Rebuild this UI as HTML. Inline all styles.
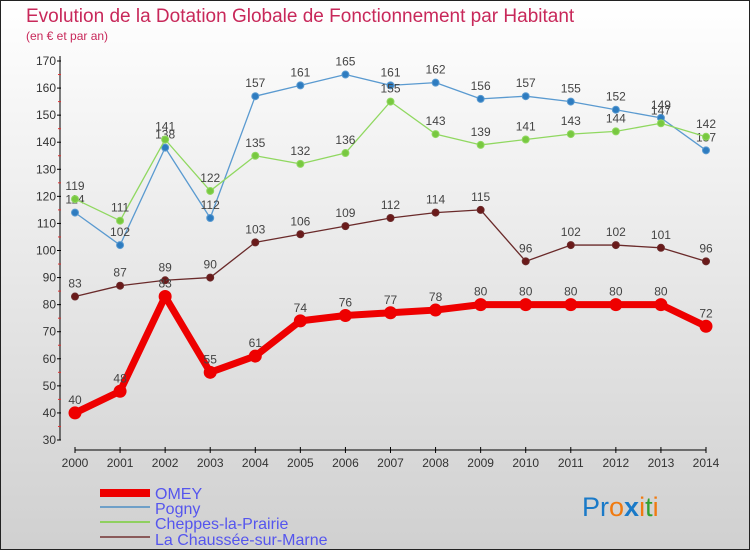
<!DOCTYPE html>
<html><head><meta charset="utf-8"><style>
body{margin:0;width:750px;height:550px;overflow:hidden;font-family:"Liberation Sans",sans-serif}
svg{display:block}
</style></head><body>
<svg width="750" height="550">
<defs><linearGradient id="bg" x1="0" y1="0" x2="0" y2="1"><stop offset="0" stop-color="#ffffff"/><stop offset="1" stop-color="#d0d0d0"/></linearGradient></defs>
<rect x="0.5" y="0.5" width="749" height="549" fill="url(#bg)" stroke="#222"/>
<text x="26" y="22" font-size="19" fill="#c8285a">Evolution de la Dotation Globale de Fonctionnement par Habitant</text>
<text x="26" y="40" font-size="12" fill="#c8285a">(en € et par an)</text>
<g id="axes"></g><g id="series"></g>
<g>
<rect x="100" y="489" width="50" height="8" fill="#e00"/>
<text x="155" y="499" font-size="16" fill="#5555ee">OMEY</text>
<rect x="100" y="506" width="50" height="2" fill="#6fa0c8"/>
<text x="155" y="514" font-size="16" fill="#5555ee">Pogny</text>
<rect x="100" y="521" width="50" height="2" fill="#8fd060"/>
<text x="155" y="529" font-size="16" fill="#5555ee">Cheppes-la-Prairie</text>
<rect x="100" y="536" width="50" height="2" fill="#8a5a5a"/>
<text x="155" y="545" font-size="16" fill="#5555ee">La Chaussée-sur-Marne</text>
</g>
<g font-size="27">
<text x="582" y="516"><tspan fill="#1a7ac8">Pr</tspan><tspan fill="#f07a10">o</tspan><tspan fill="#1a7ac8" font-weight="bold">x</tspan><tspan fill="#f07a10">i</tspan><tspan fill="#30a030">t</tspan><tspan fill="#f07a10">i</tspan></text>
</g>
</svg>
<script>
const years=[2000,2001,2002,2003,2004,2005,2006,2007,2008,2009,2010,2011,2012,2013,2014];
const yTicks=[30,40,50,60,70,80,90,100,110,120,130,140,150,160,170];
const omey=[40,48,83,55,61,74,76,77,78,80,80,80,80,80,72];
const pogny=[114,102,138,112,157,161,165,161,162,156,157,155,152,149,137];
const cheppes=[119,111,141,122,135,132,136,155,143,139,141,143,144,147,142];
const chaussee=[83,87,89,90,103,106,109,112,114,115,96,102,102,101,96];
const NS='http://www.w3.org/2000/svg';
const X=i=>75+i*(706-75)/(years.length-1);
const Y=v=>440-(v-30)*(440-61)/140;
function mk(t,a,p){const e=document.createElementNS(NS,t);for(const k in a)e.setAttribute(k,a[k]);p.appendChild(e);return e;}
const ax=document.getElementById('axes');
const yl=mk('line',{x1:60,y1:56,x2:60,y2:440,stroke:'#000'},ax);


yTicks.forEach(v=>{mk('line',{x1:57,x2:61,y1:Y(v),y2:Y(v),stroke:'#000'},ax);
if(v<170)mk('line',{x1:58,x2:61,y1:Y(v+5),y2:Y(v+5),stroke:'#d33'},ax);
const t=mk('text',{x:56,y:Y(v)+4,'text-anchor':'end','font-size':12,fill:'#333'},ax);t.textContent=v;

});
const xl=mk('line',{x1:75,y1:450,x2:706,y2:450,stroke:'#000'},ax);


years.forEach((y,i)=>{mk('line',{x1:X(i),x2:X(i),y1:447,y2:453,stroke:'#000'},ax);
const t=mk('text',{x:X(i),y:467,'text-anchor':'middle','font-size':12,fill:'#333'},ax);t.textContent=y;

});
const sg=document.getElementById('series');
function series(d,name,col,w,r,dot){
const g=mk('g',{},sg);


mk('polyline',{points:d.map((v,i)=>X(i)+','+Y(v)).join(' '),fill:'none',stroke:col,'stroke-width':w,'stroke-linejoin':'round'},g);
d.forEach((v,i)=>{const c=mk('circle',{cx:X(i),cy:Y(v),r:r,fill:dot,stroke:col,'stroke-width':1},g);


const t=mk('text',{x:X(i),y:Y(v)-9,'text-anchor':'middle','font-size':12,fill:'#444'},g);t.textContent=v;

});}
series(pogny,'pogny','#5a9ad0',1.3,3.5,'#2e7cc0');
series(cheppes,'cheppes','#90d860',1.3,3.5,'#78c840');
series(chaussee,'chaussee','#6a2a2a',1.3,3.5,'#6a1a1a');
series(omey,'omey','#ee0000',7,6,'#ee0000');
</script>
</body></html>
